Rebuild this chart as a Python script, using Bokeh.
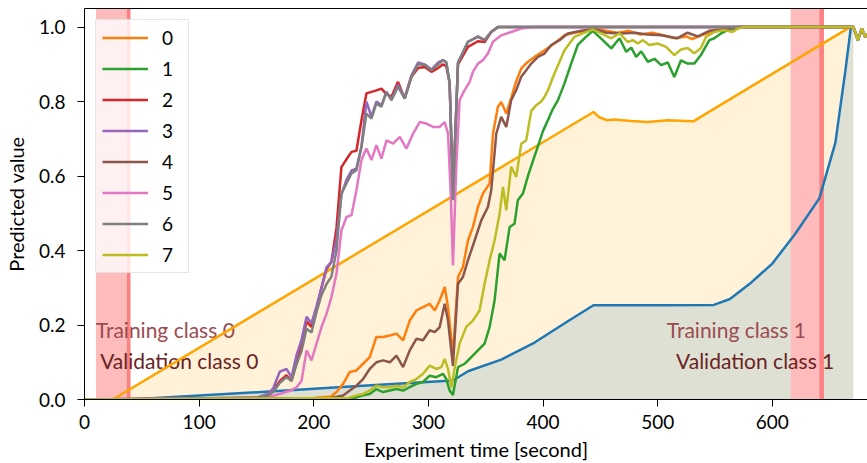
from bokeh.plotting import figure
from bokeh.models import Range1d, FixedTicker, PrintfTickFormatter, LinearAxis, Legend, LegendItem, Title
from bokeh.core.properties import value
from bokeh.embed import file_html
from bokeh.resources import INLINE

FONT = "Lato"

# ---------------- data ----------------
x_ticks = [0, 100, 200, 300, 400, 500, 600]
y_ticks = [0.0, 0.2, 0.4, 0.6, 0.8, 1.0]
x_max = 683
y_max = 1.05
x_title = "Experiment time [second]"
y_title = "Predicted value"

# reference (orange) line and cumulative (blue) curve
ref_t = [24.6, 444, 449, 456, 462, 477, 491, 509, 531, 667.8, 670.6]
ref_v = [0.0, 0.772, 0.758, 0.75, 0.752, 0.748, 0.745, 0.75, 0.747, 1.0, 1.0]
cum_t = [40, 100, 165, 250, 321.4, 334.5, 363.5, 392.6, 421.6, 444, 500, 549, 563, 580, 600, 620, 641, 655, 664, 668.5, 670.6]
cum_v = [0.0, 0.011, 0.022, 0.038, 0.051, 0.076, 0.107, 0.153, 0.21, 0.253, 0.253, 0.254, 0.27, 0.31, 0.365, 0.445, 0.54, 0.69, 0.89, 1.0, 1.0]

# training / validation windows
train_left = [10, 616]
train_right = [40, 645]
val_left = [37, 641]
val_right = [40, 645]

labels_text = ["Training class 0", "Validation class 0", "Training class 1", "Validation class 1"]
labels_x = [70.5, 82.7, 568.6, 585.0]
labels_y = [0.188, 0.105, 0.188, 0.105]

# common tail of all class curves
tail_t = [668, 670.7, 674.6, 678, 681, 684]
tail_v = [1.0, 1.0, 0.965, 0.996, 0.974, 0.985]

s0_t = [0, 200, 215, 219.8, 225.6, 231.4, 237.2, 243, 248.8, 254.6, 260.4, 266.3, 272.1, 277.9, 283.7, 289.5,
        295.3, 301.1, 305.5, 309.8, 314.2, 317.1, 321.4, 325.8, 330.1, 334.5, 338.8, 343.2, 347.5, 353.4, 356.3,
        360.6, 363.5, 367.9, 372.2, 376.6, 381, 386.8, 392.6, 401.3, 410, 418.7, 427.4, 439, 445, 455, 465, 475,
        485, 495, 505, 515, 525, 530, 540, 550, 560, 570]
s0_v = [0.0, 0.004, 0.008, 0.02, 0.042, 0.074, 0.078, 0.096, 0.114, 0.168, 0.168, 0.172, 0.177, 0.159, 0.212, 0.239,
        0.248, 0.257, 0.239, 0.266, 0.302, 0.248, 0.12, 0.329, 0.356, 0.427, 0.463, 0.517, 0.553, 0.58, 0.714,
        0.786, 0.799, 0.768, 0.81, 0.855, 0.889, 0.907, 0.92, 0.938, 0.956, 0.978, 0.985, 0.99, 0.996, 0.99, 0.985, 0.99,
        0.98, 0.985, 0.978, 0.97, 0.975, 0.968, 0.98, 0.99, 0.995, 1.0]

s1_t = [0, 235, 243, 248.8, 254.6, 260.4, 266.3, 272.1, 277.9, 283.7, 289.5, 295.3, 301.1, 306.9, 312.7, 315.6,
        318.5, 321.4, 325.8, 331.6, 337.4, 343.2, 349, 353.4, 357.7, 362.1, 366.4, 370.8, 375.1, 378, 382.4, 386.8,
        391.1, 395.5, 399.8, 404.2, 408.5, 413, 418.7, 424.5, 430.3, 436.1, 443.4, 452.1, 459.5, 466.7, 472.5, 476.9,
        481.2, 485.6, 491.4, 497.2, 503, 508.8, 514.5, 520.3, 526.1, 531.9, 537.7, 545, 549.4, 555.2, 561, 568.2, 575.5]
s1_v = [0.0, 0.004, 0.011, 0.015, 0.028, 0.02, 0.024, 0.028, 0.024, 0.033, 0.042, 0.047, 0.064, 0.06, 0.069, 0.055,
        0.024, 0.012, 0.087, 0.096, 0.114, 0.132, 0.15, 0.195, 0.266, 0.392, 0.374, 0.463, 0.472, 0.535, 0.553, 0.6,
        0.64, 0.68, 0.72, 0.75, 0.78, 0.804, 0.849, 0.902, 0.952, 0.97, 0.99, 0.965, 0.943, 0.97, 0.934, 0.945,
        0.92, 0.935, 0.907, 0.915, 0.898, 0.905, 0.866, 0.911, 0.902, 0.902, 0.925, 0.965, 0.97, 0.983, 0.992, 0.996, 1.0]

grp_t = [0, 150, 160, 164.6, 170.4, 176.2, 180.6, 185, 189.3, 193.7, 198, 202.4, 206.7, 211.1, 215.4, 219.8, 224.1,
         228.5, 232.9, 237.2, 241.6, 245.9, 250.3, 254.6, 259, 263.4, 267.7, 273.5, 279.3, 285.1, 291, 296.7, 302.6,
         308.4, 312.7, 315.6, 318.5, 321.4, 325.8, 334.5, 343.2, 349, 354.8, 360.6, 370]
s2_t = grp_t
s2_v = [0.0, 0.005, 0.012, 0.024, 0.05, 0.065, 0.05, 0.1, 0.145, 0.21, 0.195, 0.245, 0.3, 0.35, 0.37, 0.46, 0.624,
        0.645, 0.665, 0.668, 0.75, 0.822, 0.826, 0.83, 0.835, 0.82, 0.813, 0.853, 0.808, 0.866, 0.89, 0.893, 0.88,
        0.89, 0.9, 0.895, 0.85, 0.55, 0.9, 0.947, 0.962, 0.96, 0.987, 1.0, 1.0]
s3_t = grp_t
s3_v = [0.0, 0.005, 0.015, 0.03, 0.075, 0.082, 0.06, 0.12, 0.16, 0.222, 0.205, 0.25, 0.3, 0.355, 0.37, 0.43, 0.55,
        0.59, 0.615, 0.62, 0.68, 0.8, 0.76, 0.8, 0.79, 0.826, 0.805, 0.845, 0.81, 0.87, 0.905, 0.9, 0.886,
        0.905, 0.912, 0.905, 0.85, 0.55, 0.905, 0.96, 0.975, 0.965, 0.988, 1.0, 1.0]

s4_t = [0, 215, 225.6, 231.4, 237.2, 243, 248.8, 254.6, 260.4, 266.3, 272.1, 277.9, 283.7, 289.5, 295.3, 301.1,
        305.5, 309.8, 314.2, 317.1, 321.4, 325.8, 330.1, 334.5, 340.3, 346.1, 351.9, 354.8, 359.2, 363.5, 367.9,
        372.2, 376.6, 381, 385.3, 389.7, 395.5, 401.3, 407.1, 414.3, 421.6, 433.2, 445, 455, 468, 480, 491, 503,
        517, 526, 535, 545, 560, 570]
s4_v = [0.0, 0.004, 0.011, 0.024, 0.037, 0.055, 0.082, 0.1, 0.105, 0.1, 0.118, 0.087, 0.132, 0.163, 0.159, 0.186,
        0.181, 0.194, 0.257, 0.212, 0.09, 0.311, 0.329, 0.374, 0.427, 0.481, 0.517, 0.562, 0.714, 0.759, 0.732,
        0.804, 0.831, 0.867, 0.884, 0.902, 0.92, 0.929, 0.952, 0.965, 0.983, 0.99, 0.995, 0.985, 0.983, 0.985, 0.98, 0.978,
        0.97, 0.985, 0.975, 0.99, 0.995, 1.0]

s5_t = [0, 150, 165, 180.6, 185, 189.3, 193.7, 198, 202.4, 206.7, 211.1, 215.4, 219.8, 224.1, 228.5, 232.9, 237.2,
        241.6, 245.9, 250.3, 254.6, 259, 263.4, 269.2, 275, 280.8, 286.6, 292.4, 298.2, 304, 309.8, 314.2, 317.1,
        319.5, 321.4, 324.3, 327.2, 331.6, 336, 338.8, 343.2, 347.5, 351.9, 356.3, 363.5, 372.2, 381, 392.6]
s5_v = [0.0, 0.004, 0.01, 0.025, 0.033, 0.05, 0.132, 0.105, 0.15, 0.194, 0.23, 0.275, 0.338, 0.454, 0.49, 0.495, 0.562,
        0.643, 0.674, 0.643, 0.683, 0.647, 0.696, 0.687, 0.705, 0.674, 0.714, 0.745, 0.741, 0.732, 0.732, 0.745, 0.714,
        0.55, 0.36, 0.625, 0.804, 0.831, 0.853, 0.88, 0.902, 0.911, 0.929, 0.961, 0.978, 0.987, 0.996, 1.0]

s6_t = grp_t
s6_v = [0.0, 0.004, 0.01, 0.02, 0.045, 0.06, 0.05, 0.095, 0.13, 0.19, 0.18, 0.235, 0.28, 0.31, 0.33, 0.4, 0.553,
        0.58, 0.607, 0.616, 0.678, 0.768, 0.754, 0.795, 0.786, 0.826, 0.804, 0.84, 0.808, 0.866, 0.9, 0.898, 0.884,
        0.9, 0.911, 0.906, 0.85, 0.535, 0.905, 0.961, 0.974, 0.965, 0.987, 1.0, 1.0]

s7_t = [0, 230, 237.2, 243, 248.8, 254.6, 260.4, 266.3, 272.1, 277.9, 283.7, 289.5, 295.3, 301.1, 306.9, 311.3,
        314.2, 317.1, 320, 323, 327.2, 333, 338.8, 344.6, 349, 353.4, 357.7, 362.1, 365, 367.9, 372.2, 376.6, 381,
        385.3, 389.7, 394, 398.4, 401.3, 404.2, 410, 418.7, 427.4, 434.7, 443.4, 450.6, 459.5, 466.7, 474, 478.3,
        482.7, 487, 492.8, 500, 507.3, 514.5, 520.3, 526.1, 531.9, 537.7, 542.1, 549.4, 558.1, 565.3, 569.7, 575.5]
s7_v = [0.0, 0.004, 0.011, 0.015, 0.024, 0.037, 0.033, 0.033, 0.037, 0.033, 0.047, 0.055, 0.069, 0.091, 0.082, 0.087,
        0.109, 0.082, 0.033, 0.087, 0.15, 0.195, 0.212, 0.239, 0.311, 0.374, 0.427, 0.499, 0.571, 0.508, 0.625, 0.598, 0.687,
        0.696, 0.775, 0.79, 0.8, 0.813, 0.83, 0.876, 0.938, 0.974, 0.983, 0.994, 0.983, 0.97, 0.983, 0.96, 0.965,
        0.956, 0.965, 0.952, 0.956, 0.947, 0.925, 0.94, 0.944, 0.93, 0.944, 0.974, 0.987, 0.992, 0.987, 0.996, 1.0]

series_t = [s0_t, s1_t, s2_t, s3_t, s4_t, s5_t, s6_t, s7_t]
series_v = [s0_v, s1_v, s2_v, s3_v, s4_v, s5_v, s6_v, s7_v]
series_names = ["0", "1", "2", "3", "4", "5", "6", "7"]
series_colors = ["#ff7f0e", "#2ca02c", "#d62728", "#9467bd", "#8c564b", "#e377c2", "#7f7f7f", "#bcbd22"]

# ---------------- figure ----------------
p = figure(width=867, height=463, output_backend="svg", toolbar_location=None,
           x_range=Range1d(0, x_max), y_range=Range1d(0, y_max),
           min_border_left=83, min_border_right=0, min_border_top=8, min_border_bottom=64)
p.outline_line_color = None
p.xgrid.visible = False
p.ygrid.visible = False
p.background_fill_color = "white"
p.border_fill_color = "white"

# fills
p.varea(x=ref_t, y1=[0] * len(ref_t), y2=ref_v, fill_color="orange", fill_alpha=0.15)
p.varea(x=cum_t, y1=[0] * len(cum_t), y2=cum_v, fill_color="#1f77b4", fill_alpha=0.15)

# windows (opaque, above the fills, below the lines)
p.quad(left=train_left, right=train_right, bottom=[0, 0], top=[y_max, y_max],
       fill_color="#fdbbbb", line_color=None)
p.quad(left=val_left, right=val_right, bottom=[0, 0], top=[y_max, y_max],
       fill_color="#fc8282", line_color=None)

# window labels
p.text(x=labels_x[0::2], y=labels_y[0::2], text=labels_text[0::2], text_font=value(FONT),
       text_font_size="21px", text_color="#9b4b50", text_align="center", text_baseline="middle")
p.text(x=labels_x[1::2], y=labels_y[1::2], text=labels_text[1::2], text_font=value(FONT),
       text_font_size="21px", text_color="#6b2222", text_align="center", text_baseline="middle")

p.line(ref_t, ref_v, line_color="orange", line_width=2.5)
p.line(cum_t, cum_v, line_color="#1f77b4", line_width=2.5)

items = []
for name, col, t, v in zip(series_names, series_colors, series_t, series_v):
    r = p.line(t + tail_t, v + tail_v, line_color=col, line_width=2.5)
    items.append(LegendItem(label=name, renderers=[r]))

legend = Legend(items=items, location="top_left", margin=11, padding=6, spacing=8,
                glyph_width=46, glyph_height=21, label_height=21, label_standoff=14,
                label_text_font=FONT, label_text_font_size="19px", label_text_color="black",
                border_line_color="#cccccc", border_line_width=1,
                background_fill_color="white", background_fill_alpha=0.8)
p.add_layout(legend)

# axes
for ax in (p.xaxis[0], p.yaxis[0]):
    ax.axis_line_color = "black"
    ax.major_tick_line_color = "black"
    ax.major_tick_out = 7
    ax.major_tick_in = 0
    ax.minor_tick_line_color = None
    ax.major_label_text_font = FONT
    ax.major_label_text_font_size = "19px"
    ax.major_label_text_color = "black"
    ax.axis_label_text_font = FONT
    ax.axis_label_text_font_size = "20px"
    ax.axis_label_text_font_style = "normal"
    ax.axis_label_text_color = "black"

p.xaxis[0].ticker = FixedTicker(ticks=x_ticks)
p.yaxis[0].ticker = FixedTicker(ticks=y_ticks)
p.yaxis[0].formatter = PrintfTickFormatter(format="%.1f")
p.yaxis[0].axis_label = y_title
p.xaxis[0].major_label_standoff = 8
p.yaxis[0].major_label_standoff = 12
p.yaxis[0].axis_label_standoff = 8

# x-axis title as a panel under the tick labels
p.add_layout(Title(text=x_title, align="center", text_font=FONT, text_font_size="20px",
                   text_font_style="normal", text_color="black", standoff=6), "below")

top = LinearAxis(ticker=FixedTicker(ticks=[]), axis_line_color="black",
                 major_tick_line_color=None, minor_tick_line_color=None,
                 major_label_text_font_size="0px")
p.add_layout(top, "above")

open("out.html", "w").write(file_html(p, INLINE))
